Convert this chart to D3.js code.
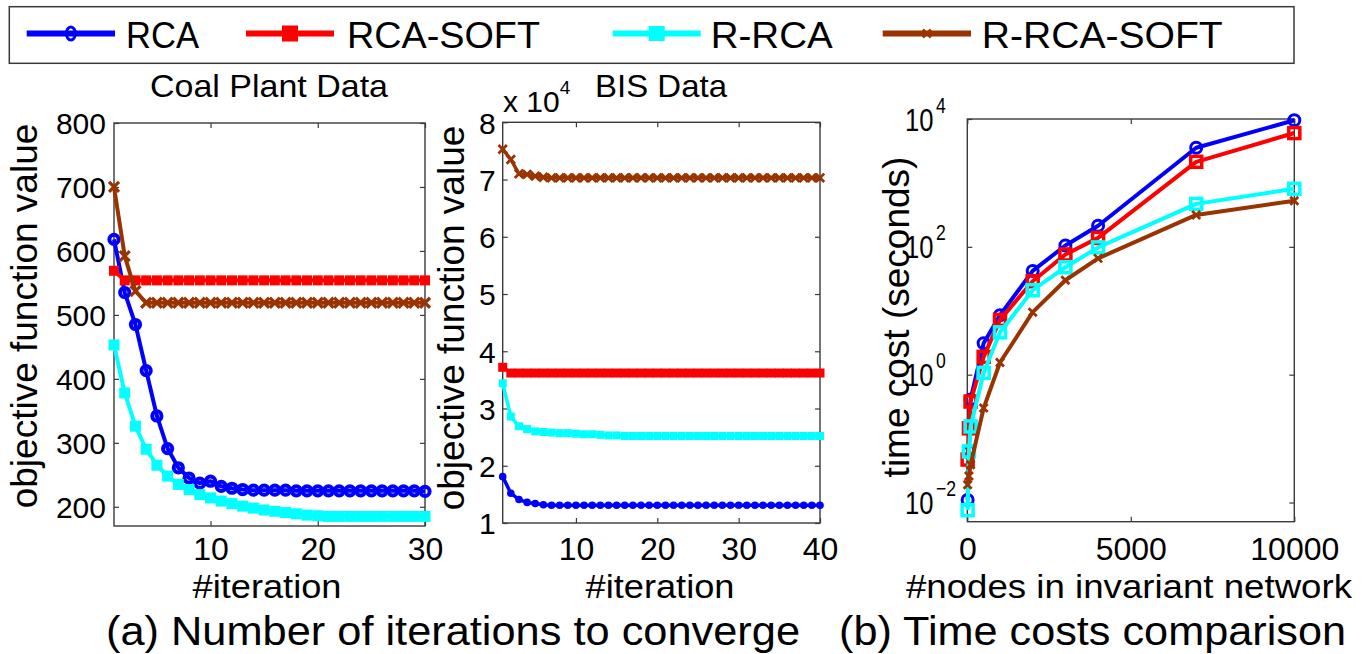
<!DOCTYPE html>
<html><head><meta charset="utf-8">
<script src="https://cdn.jsdelivr.net/npm/d3@7"></script>
<style>
body{margin:0;background:#fff}
text{font-family:"Liberation Sans", Arial, Helvetica, sans-serif; fill:#000}
</style>
</head><body>
<svg width="1371" height="654"></svg>
<script>
// ---------------- data ----------------
const seriesNames = ["RCA", "RCA-SOFT", "R-RCA", "R-RCA-SOFT"];
const seriesColors = ["#0000ff", "#ff0000", "#00ffff", "#993300"];

const coalIterations = [1,2,3,4,5,6,7,8,9,10,11,12,13,14,15,16,17,18,19,20,21,22,23,24,25,26,27,28,29,30];
const coalRCA      = [618,535,485,413,342,291,261,245,237,240,232,229,227,226,226,226,226,225,225,225,225,225,225,225,225,225,225,225,225,224];
const coalRCASoft  = [569,554,554,554,554,554,554,554,554,554,554,554,554,554,554,554,554,554,554,554,554,554,554,554,554,554,554,554,554,554];
const coalRRCA     = [453,378,326,290,265,248,235,227,219,214,209,205,201,198,195,193,191,189,187,186,185,185,185,185,185,185,185,185,185,185];
const coalRRCASoft = [700,592,537,519,519,519,519,519,519,519,519,519,519,519,519,519,519,519,519,519,519,519,519,519,519,519,519,519,519,519];

const bisIterations = [1,2,3,4,5,6,7,8,9,10,11,12,13,14,15,16,17,18,19,20,21,22,23,24,25,26,27,28,29,30,31,32,33,34,35,36,37,38,39,40];
const bisRCA      = [18100,15200,14100,13600,13400,13200,13100,13100,13100,13100,13100,13100,13100,13100,13100,13100,13100,13100,13100,13100,13100,13100,13100,13100,13100,13100,13100,13100,13100,13100,13100,13100,13100,13100,13100,13100,13100,13100,13100,13100];
const bisRCASoft  = [37200,36200,36200,36200,36200,36200,36200,36200,36200,36200,36200,36200,36200,36200,36200,36200,36200,36200,36200,36200,36200,36200,36200,36200,36200,36200,36200,36200,36200,36200,36200,36200,36200,36200,36200,36200,36200,36200,36200,36200];
const bisRRCA     = [34400,28600,26900,26400,26000,25900,25800,25700,25700,25600,25500,25500,25400,25300,25300,25200,25200,25200,25200,25200,25200,25200,25200,25200,25200,25200,25200,25200,25200,25200,25200,25200,25200,25200,25200,25200,25200,25200,25200,25200];
const bisRRCASoft = [75300,73500,71000,70900,70600,70400,70300,70300,70300,70300,70300,70300,70300,70300,70300,70300,70300,70300,70300,70300,70300,70300,70300,70300,70300,70300,70300,70300,70300,70300,70300,70300,70300,70300,70300,70300,70300,70300,70300,70300];

const nodeCounts   = [10,50,100,500,1000,2000,3000,4000,7000,10000];
const timeRCA      = [0.011,0.063,0.41,3.1,8.5,42,105,214,3550,9550];
const timeRCASoft  = [0.047,0.145,0.38,1.9,7.2,29,76,138,2140,6030];
const timeRRCA     = [0.0076,0.063,0.155,1.07,4.6,21,48,98,470,810];
const timeRRCASoft = [0.019,0.026,0.039,0.30,1.55,9.5,30,66,316,525];

const coalXTicks = [10,20,30];
const coalYTicks = [200,300,400,500,600,700,800];
const bisXTicks  = [10,20,30,40];
const bisYTicks  = [10000,20000,30000,40000,50000,60000,70000,80000];
const timeXTicks = [0,5000,10000];
const timeYTicks = [0.01,1,100,10000];
const timeYExps  = ["\u22122","0","2","4"];

// ---------------- drawing ----------------
const svg = d3.select("svg");
const FRAME = "#3a3a3a";
const XTICK_Y = 560;
const XLAB_Y = 598;

function xPath(s){ return `M${-s},${-s}L${s},${s}M${-s},${s}L${s},${-s}`; }

function drawSeries(g, xs, ys, x, y, color, lw, mk){
  const pts = xs.map((d,i)=>[x(d), y(ys[i])]);
  g.append("path").attr("d", d3.line()(pts)).attr("fill","none")
    .attr("stroke", color).attr("stroke-width", lw).attr("stroke-linejoin","round");
  const m = g.append("g");
  pts.forEach(p=>{
    if(mk.type==="circle"){
      m.append("circle").attr("cx",p[0]).attr("cy",p[1]).attr("r",mk.r)
        .attr("fill", mk.fill ? color : "none").attr("stroke",color).attr("stroke-width",mk.sw||0);
    } else if(mk.type==="square"){
      const s = mk.s;
      m.append("rect").attr("x",p[0]-s/2).attr("y",p[1]-s/2).attr("width",s).attr("height",s)
        .attr("fill", mk.fill ? color : "none").attr("stroke",color).attr("stroke-width",mk.sw||0);
    } else {
      m.append("path").attr("transform",`translate(${p[0]},${p[1]})`).attr("d",xPath(mk.s))
        .attr("stroke",color).attr("stroke-width",mk.sw).attr("fill","none");
    }
  });
}

function frameAxes(g, x, y, xTicks, yTicks){
  const [xa,xb] = x.range(), [yb,ya] = y.range();
  const bottom = g.append("g").attr("transform",`translate(0,${yb})`)
    .call(d3.axisBottom(x).tickValues(xTicks).tickSizeInner(-5).tickSizeOuter(0).tickFormat(d3.format("d")));
  const top = g.append("g").attr("transform",`translate(0,${ya})`)
    .call(d3.axisTop(x).tickValues(xTicks).tickSizeInner(-5).tickSizeOuter(0).tickFormat(""));
  const left = g.append("g").attr("transform",`translate(${xa},0)`)
    .call(d3.axisLeft(y).tickValues(yTicks).tickSizeInner(-5).tickSizeOuter(0).tickFormat(d3.format("d")));
  const right = g.append("g").attr("transform",`translate(${xb},0)`)
    .call(d3.axisRight(y).tickValues(yTicks).tickSizeInner(-5).tickSizeOuter(0).tickFormat(""));
  [bottom,top,left,right].forEach(a=>{
    a.select(".domain").remove();
    a.selectAll("line").attr("stroke",FRAME).attr("stroke-width",1.2);
  });
  g.append("rect").attr("x",xa).attr("y",ya).attr("width",xb-xa).attr("height",yb-ya)
    .attr("fill","none").attr("stroke",FRAME).attr("stroke-width",1.4);
  bottom.selectAll("text").attr("y",XTICK_Y-yb).attr("dy",0)
    .style("font-size","32px").style("font-family",null).attr("fill","#000");
  return {bottom,left};
}

// ---------- Panel 1: Coal Plant ----------
{
  const x = d3.scaleLinear().domain([1,30]).range([114,425]);
  const y = d3.scaleLinear().domain([170,800]).range([526,123]);
  const g = svg.append("g");
  const ax = frameAxes(g, x, y, coalXTicks, coalYTicks);
  ax.left.selectAll("text").attr("x",-8).attr("dy","0.36em").style("font-size","30px").style("font-family",null).attr("fill","#000");
  const d = g.append("g");
  drawSeries(d, coalIterations, coalRCA, x, y, seriesColors[0], 4, {type:"circle", r:4.6, sw:4});
  drawSeries(d, coalIterations, coalRCASoft, x, y, seriesColors[1], 4, {type:"square", s:10, fill:true});
  drawSeries(d, coalIterations, coalRRCA, x, y, seriesColors[2], 4, {type:"square", s:11, fill:true});
  drawSeries(d, coalIterations, coalRRCASoft, x, y, seriesColors[3], 4, {type:"x", s:5, sw:3.2});
  g.append("text").attr("x",269).attr("y",97).attr("text-anchor","middle").style("font-size","32px")
    .attr("textLength",238).attr("lengthAdjust","spacingAndGlyphs").text("Coal Plant Data");
  g.append("text").attr("x",267).attr("y",XLAB_Y).attr("text-anchor","middle").style("font-size","34px")
    .attr("textLength",149).attr("lengthAdjust","spacingAndGlyphs").text("#iteration");
  g.append("text").attr("transform","translate(37,316) rotate(-90)").attr("text-anchor","middle")
    .style("font-size","37px").text("objective function value");
}

// ---------- Panel 2: BIS ----------
{
  const x = d3.scaleLinear().domain([1,40]).range([502.7,820]);
  const y = d3.scaleLinear().domain([10000,80000]).range([523,122.3]);
  const g = svg.append("g");
  const ax = frameAxes(g, x, y, bisXTicks, bisYTicks);
  ax.left.selectAll("text").attr("x",-7).attr("dy","0.36em").style("font-size","30px").style("font-family",null)
    .attr("fill","#000").text(d=>d/10000);
  const d = g.append("g");
  drawSeries(d, bisIterations, bisRCA, x, y, seriesColors[0], 3.5, {type:"circle", r:3.8, fill:true});
  drawSeries(d, bisIterations, bisRCASoft, x, y, seriesColors[1], 3.5, {type:"square", s:9, fill:true});
  drawSeries(d, bisIterations, bisRRCA, x, y, seriesColors[2], 3.5, {type:"square", s:8, fill:true});
  drawSeries(d, bisIterations, bisRRCASoft, x, y, seriesColors[3], 3.5, {type:"x", s:4.2, sw:2.8});
  g.append("text").attr("x",661).attr("y",97).attr("text-anchor","middle").style("font-size","32px")
    .attr("textLength",132).attr("lengthAdjust","spacingAndGlyphs").text("BIS Data");
  const mult = g.append("text").attr("x",503).attr("y",112).style("font-size","30px");
  mult.append("tspan").text("x 10");
  mult.append("tspan").attr("dy",-18).style("font-size","19px").text("4");
  g.append("text").attr("x",660).attr("y",XLAB_Y).attr("text-anchor","middle").style("font-size","34px")
    .attr("textLength",149).attr("lengthAdjust","spacingAndGlyphs").text("#iteration");
  g.append("text").attr("transform","translate(464,318) rotate(-90)").attr("text-anchor","middle")
    .style("font-size","37px").text("objective function value");
}

// ---------- Panel 3: Time cost ----------
{
  const x = d3.scaleLinear().domain([0,10000]).range([967.3,1294.3]);
  const y = d3.scaleLog().domain([Math.pow(10,-2.3),10000]).range([521.7,119]);
  const g = svg.append("g");
  const ax = frameAxes(g, x, y, timeXTicks, timeYTicks);
  // the axis' own tick labels, rewritten as 10^k and narrowed horizontally
  const sx = 0.8;
  ax.left.selectAll("text").attr("dy",0).attr("y",11).attr("text-anchor","start")
    .attr("x",-62.3/sx).attr("transform",`scale(${sx},1)`)
    .style("font-size","32px").style("font-family",null).attr("fill","#000")
    .text("")
    .each(function(d,i){
      const t = d3.select(this);
      t.append("tspan").text("10");
      t.append("tspan").attr("dx",3).attr("dy",-18).style("font-size","22px").text(timeYExps[i]);
    });
  const d = g.append("g");
  drawSeries(d, nodeCounts, timeRCA, x, y, seriesColors[0], 4, {type:"circle", r:5.5, sw:3});
  drawSeries(d, nodeCounts, timeRCASoft, x, y, seriesColors[1], 4, {type:"square", s:11, sw:3.5});
  drawSeries(d, nodeCounts, timeRRCA, x, y, seriesColors[2], 4, {type:"square", s:11, sw:3.5});
  drawSeries(d, nodeCounts, timeRRCASoft, x, y, seriesColors[3], 4, {type:"x", s:4, sw:2.8});
  g.append("text").attr("x",1129).attr("y",XLAB_Y).attr("text-anchor","middle").style("font-size","34px")
    .attr("textLength",446).attr("lengthAdjust","spacingAndGlyphs").text("#nodes in invariant network");
  g.append("text").attr("transform","translate(909,317) rotate(-90)").attr("text-anchor","middle")
    .style("font-size","37px").text("time cost (seconds)");
}

// ---------- Legend ----------
{
  const g = svg.append("g");
  g.append("rect").attr("x",9.3).attr("y",6.7).attr("width",1284.7).attr("height",56.6)
    .attr("fill","#fff").attr("stroke",FRAME).attr("stroke-width",1.5);
  const lx = [[26.7,115],[246,334],[612.7,700.7],[882.7,971]];
  const tx = [126,347,710.7,981.7];
  const tw = [73,193,122,241];
  const ly = 33.5;
  seriesNames.forEach((nm,i)=>{
    const c = seriesColors[i];
    g.append("line").attr("x1",lx[i][0]).attr("x2",lx[i][1]).attr("y1",ly).attr("y2",ly)
      .attr("stroke",c).attr("stroke-width",6);
    const cx = (lx[i][0]+lx[i][1])/2;
    if(i===0) g.append("ellipse").attr("cx",cx).attr("cy",ly).attr("rx",4.5).attr("ry",6.5)
      .attr("fill","none").attr("stroke",c).attr("stroke-width",3);
    if(i===1) g.append("rect").attr("x",cx-8).attr("y",ly-8).attr("width",16).attr("height",16).attr("fill",c);
    if(i===2) g.append("rect").attr("x",cx-8).attr("y",ly-7.5).attr("width",16).attr("height",15).attr("fill",c);
    if(i===3) g.append("path").attr("transform",`translate(${cx},${ly})`).attr("d",xPath(4))
      .attr("stroke",c).attr("stroke-width",2.5);
    g.append("text").attr("x",tx[i]).attr("y",48).style("font-size","36px")
      .attr("textLength",tw[i]).attr("lengthAdjust","spacingAndGlyphs").text(nm);
  });
}

// ---------- captions ----------
svg.append("text").attr("x",106).attr("y",645).style("font-size","41px")
  .attr("textLength",694).attr("lengthAdjust","spacingAndGlyphs").text("(a) Number of iterations to converge");
svg.append("text").attr("x",839).attr("y",645).style("font-size","41px")
  .attr("textLength",507).attr("lengthAdjust","spacingAndGlyphs").text("(b) Time costs comparison");
</script>
</body></html>
